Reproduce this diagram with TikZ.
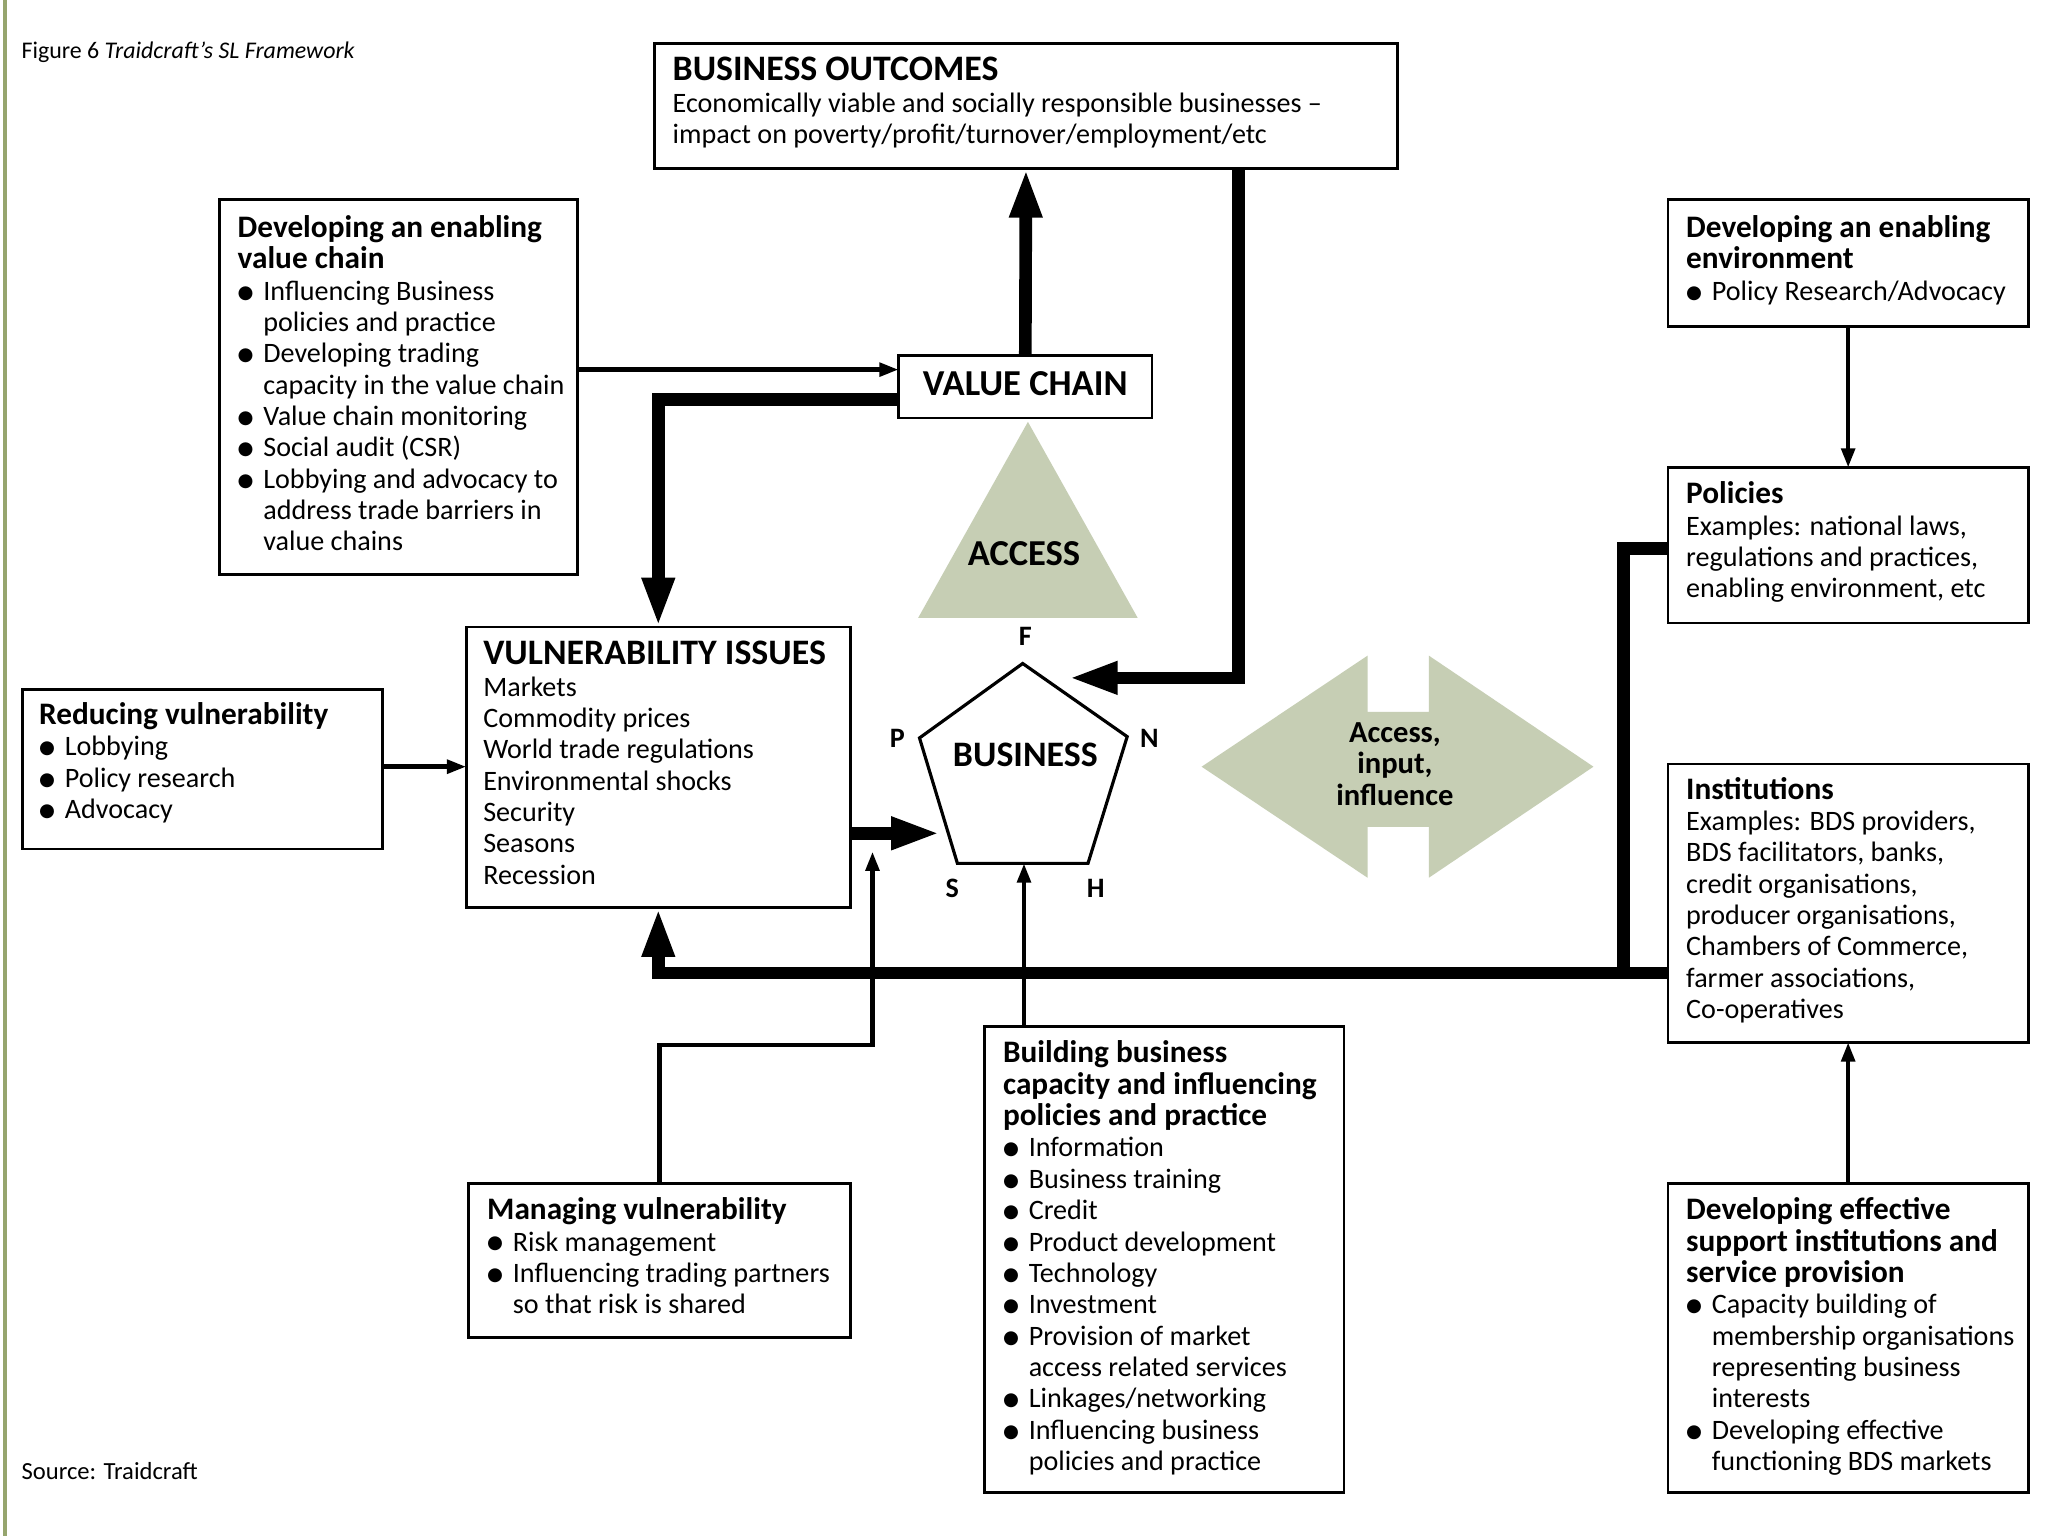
\documentclass[tikz,border=0pt]{standalone}
\usepackage{fontspec}
\setmainfont{Carlito}
\newfontfamily\dejavu{DejaVu Sans}
\usepackage{graphicx}
\usetikzlibrary{arrows.meta}
\definecolor{sage}{RGB}{198,206,180}
\definecolor{olivebar}{RGB}{150,165,110}
\def\px{0.013061cm}
\newcommand\bul{\makebox[7.3pt][l]{\raisebox{0.15ex}{\dejavu\fontsize{5.2}{6}\selectfont ●}}}
\newcommand\ind{\hspace*{7.3pt}}
\newcommand\hd[1]{{\bfseries\fontsize{8.9}{8.92}\selectfont #1}}
\newcommand\hdc[1]{{\bfseries\fontsize{10.2}{8.92}\selectfont #1}}
\tikzset{
  box/.style={draw, line width=0.8pt, anchor=north west, inner sep=0pt, outer sep=0pt},
  txt/.style={anchor=north west, inner sep=0pt, outer sep=0pt, align=left, font=\fontsize{8}{8.92}\selectfont},
  lbl/.style={inner sep=0pt, font=\bfseries\fontsize{8}{9}\selectfont},
  capl/.style={inner sep=0pt, font=\bfseries\fontsize{10.4}{10}\selectfont},
  thk/.style={line width=3.6pt, -{Triangle[length=14pt,width=8.5pt]}},
  thn/.style={line width=1.3pt, -{Triangle[length=5.5pt,width=3.8pt]}},
  bus/.style={line width=3.6pt}
}
\begin{document}
\begin{tikzpicture}[x=0.013061cm, y=-0.013061cm, line join=miter]
\useasboundingbox (0,0) rectangle (1568,1176);
\fill[white] (0,0) rectangle (1568,1176);
\draw[olivebar, line width=1.2pt] (4,0) -- (4,1176);

% title and source
\node[anchor=west, inner sep=0pt, font=\fontsize{6.8}{7}\selectfont] (title) at (16,40) {Figure 6 \textit{Traidcraft's SL Framework}};
\node[anchor=west, inner sep=0pt, font=\fontsize{7}{7}\selectfont] (source) at (16,1126) {Source: Traidcraft};

% shapes
\fill[sage] (787,323) -- (871,473) -- (703,473) -- cycle;
\node[capl] (accesst) at (784,424) {ACCESS};

\fill[sage] (920,587) -- (1047,502) -- (1047,545) -- (1094,545) -- (1094,502) -- (1220,587)
  -- (1094,672) -- (1094,633) -- (1047,633) -- (1047,672) -- cycle;
\node[lbl, align=center, font=\bfseries\fontsize{8.7}{8.92}\selectfont] (aii) at (1068,585) {Access,\\input,\\influence};

\draw[line width=0.9pt] (783,508) -- (863,564) -- (833,661) -- (733,661) -- (704,565) -- cycle;
\node[capl, font=\bfseries\fontsize{10.2}{10}\selectfont] (biz) at (785,578) {BUSINESS};
\node[lbl] (lF) at (785,487) {F};
\node[lbl] (lN) at (880,565) {N};
\node[lbl] (lH) at (839,680) {H};
\node[lbl] (lS) at (729,680) {S};
\node[lbl] (lP) at (687,565) {P};
\coordinate (bizR) at (818,519);
\coordinate (bizL) at (720,638);
\coordinate (bizB) at (784,661);

% boxes
\node[box, minimum width=569*\px, minimum height=96*\px] (bo) at (501,33) {};
\node[txt] (bot) at (515,44) {\hdc{BUSINESS OUTCOMES}\\Economically viable and socially responsible businesses --\\impact on poverty/profit/turnover/employment/etc};

\node[box, minimum width=274*\px, minimum height=287*\px] (evc) at (168,153) {};
\node[txt] (evct) at (182,165) {\hd{Developing an enabling}\\\hd{value chain}\\
\bul Influencing Business\\\ind policies and practice\\
\bul Developing trading\\\ind capacity in the value chain\\
\bul Value chain monitoring\\
\bul Social audit (CSR)\\
\bul Lobbying and advocacy to\\\ind address trade barriers in\\\ind value chains};

\node[box, minimum width=194*\px, minimum height=48*\px] (vc) at (688,272) {};
\node[capl] (vct) at (785,294) {VALUE CHAIN};

\node[box, minimum width=294*\px, minimum height=215*\px] (vul) at (357,480) {};
\node[txt] (vult) at (370,491) {\hdc{VULNERABILITY ISSUES}\\Markets\\Commodity prices\\World trade regulations\\Environmental shocks\\Security\\Seasons\\Recession};

\node[box, minimum width=276*\px, minimum height=122*\px] (red) at (17,528) {};
\node[txt] (redt) at (30,538) {\hd{Reducing vulnerability}\\\bul Lobbying\\\bul Policy research\\\bul Advocacy};

\node[box, minimum width=276*\px, minimum height=97*\px] (env) at (1277,153) {};
\node[txt] (envt) at (1291,165) {\hd{Developing an enabling}\\\hd{environment}\\\bul Policy Research/Advocacy};

\node[box, minimum width=276*\px, minimum height=119*\px] (pol) at (1277,358) {};
\node[txt] (polt) at (1291,369) {\hd{Policies}\\Examples: national laws,\\regulations and practices,\\enabling environment, etc};

\node[box, minimum width=276*\px, minimum height=213*\px] (inst) at (1277,585) {};
\node[txt] (instt) at (1291,595) {\hd{Institutions}\\Examples: BDS providers,\\BDS facilitators, banks,\\credit organisations,\\producer organisations,\\Chambers of Commerce,\\farmer associations,\\Co-operatives};

\node[box, minimum width=276*\px, minimum height=237*\px] (dev) at (1277,906) {};
\node[txt] (devt) at (1291,917) {\hd{Developing effective}\\\hd{support institutions and}\\\hd{service provision}\\
\bul Capacity building of\\\ind membership organisations\\\ind representing business\\\ind interests\\
\bul Developing effective\\\ind functioning BDS markets};

\node[box, minimum width=275*\px, minimum height=357*\px] (bld) at (754,786) {};
\node[txt] (bldt) at (768,797) {\hd{Building business}\\\hd{capacity and influencing}\\\hd{policies and practice}\\
\bul Information\\\bul Business training\\\bul Credit\\\bul Product development\\\bul Technology\\\bul Investment\\
\bul Provision of market\\\ind access related services\\\bul Linkages/networking\\
\bul Influencing business\\\ind policies and practice};

\node[box, minimum width=292*\px, minimum height=118*\px] (mgv) at (359,906) {};
\node[txt] (mgvt) at (373,917) {\hd{Managing vulnerability}\\\bul Risk management\\\bul Influencing trading partners\\\ind so that risk is shared};

% helper coordinates
\coordinate (y283) at (0,283);
\coordinate (y306) at (0,306);
\coordinate (y587) at (0,587);
\coordinate (y638) at (0,638);
\coordinate (y420) at (0,420);
\coordinate (y745) at (0,745);
\coordinate (x948) at (948,0);
\coordinate (x784) at (784,0);
\coordinate (x1243) at (1243,0);
\coordinate (mgbend) at (668,800);
\coordinate (mgtip) at (668,652);

% connectors
\draw[thk] (vc.north) -- (bo.south);
\draw[thk] (bo.south -| x948) |- (bizR);
\draw[thn] (evc.east |- y283) -- (vc.west |- y283);
\draw[thk] (vc.west |- y306) -| (vul.north);
\draw[thn] (red.east |- y587) -- (vul.west |- y587);
\draw[thk] (vul.east |- y638) -- (bizL);
\draw[thk] (inst.west |- y745) -| (vul.south);
\draw[bus] (pol.west |- y420) -| (x1243 |- y745);
\draw[thn] (mgv.north) |- (mgbend) -- (mgtip);
\draw[thn] (bld.north -| x784) -- (bizB);
\draw[thn] (env.south) -- (pol.north);
\draw[thn] (dev.north) -- (inst.south);
\end{tikzpicture}
\end{document}
